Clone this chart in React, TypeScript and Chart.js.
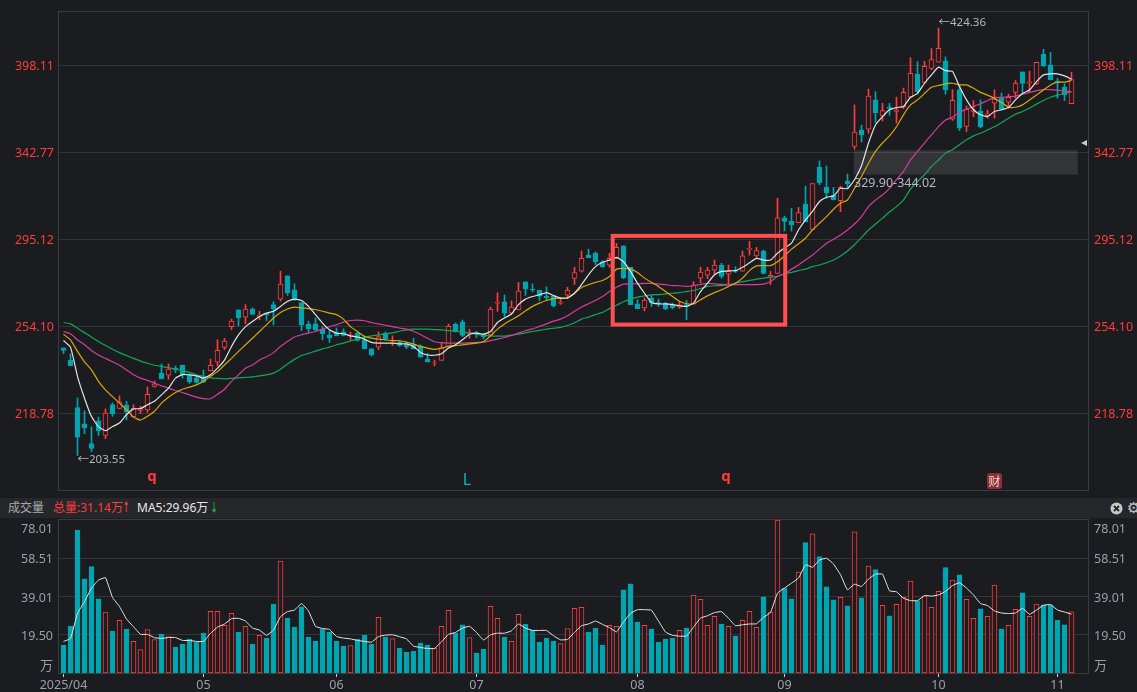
import React, { useEffect, useRef } from "react";
import { Chart, registerables } from "chart.js";

Chart.register(...registerables);

const opens = [244.9,239.8,221,214.9,207.7,216,210.7,222.1,220.7,222,217.6,219.9,220.1,229.2,234.5,233.7,236.5,237.7,233.5,232.6,233,235.5,238.9,245.1,254,261.5,258.2,261.8,258.5,260,263.8,266.3,277.2,270.6,264.7,255,255.2,252.9,250.5,251.3,251.7,249.9,251.2,248.3,244.5,245.2,251.2,246.9,247.3,246.5,246.2,245.6,240.1,238.5,239.7,245.5,255.1,256.1,251,251.4,250.7,250.4,264.5,265.1,259.9,261.4,274.4,270.9,270.4,267.7,267.8,264.5,268.1,276,279.4,287.2,288.3,284,282.3,285.6,291.8,281.3,264.2,262.3,266.8,264.7,264.4,263.6,262.6,263.8,264,276.1,277.5,279.9,282.3,278,279.7,279.4,290.1,286.8,289.1,276.5,278.3,306.3,304.4,303.7,313.6,300.2,334,322.7,318.5,315.4,326.1,346.2,356.1,356.7,375.1,364.9,370.6,367.8,370.8,376.9,392.2,386.5,395.9,400.2,401.2,362.9,381.7,358.4,367.8,368,365.1,373,376.5,373.6,380,393.6,386.1,385.6,405.8,398.4,387.4,383.4,372.7];
const closes = [243.8,237.5,210,213.4,206,212.4,218.9,218.7,223.1,219.4,220.8,220.6,226.1,230.2,232.2,236.1,235.8,233.7,231,230.8,230.9,237.7,243.9,247.8,256.4,258,261.8,259.4,259,259.3,262,273.3,269.3,266.2,254.9,253.1,252.6,250.9,249.2,250,250.2,250.3,248,244.5,241.9,249.7,248.6,247.3,245.9,245.2,244.5,241,239,238.7,244.9,254.1,251.7,250.2,251.4,251,249.7,261.8,265,259.9,262.7,270,271,270.6,267.7,266.9,263.3,265,270.4,278.8,285.6,286,284,281.6,285.6,291.1,276.3,263.8,262,265.9,264.7,264.1,262,262.4,263.5,263,272.8,279,279.9,282.3,276.9,279.4,279.3,286.9,290.6,289.5,278.3,277.4,306.3,304.4,302.6,309.1,304.2,324.9,325.3,319.6,316,322.7,324.6,354.9,353.4,377.5,367,368.2,369.7,368.8,380,392.7,380.4,397.4,402,409.9,381.7,374.9,357.3,369,368.8,358.2,366.3,375.6,369,376.7,386.1,385.8,386.9,400.2,397.6,388.4,386.3,378.4,388.4];
const highs = [244.9,242.4,224.7,219.8,213.8,217.4,220.5,222.8,225.5,223.4,222.1,221.5,229,231.3,238.2,238.2,237.4,237.7,234.1,233.3,235.7,240.2,248.3,248.9,257.3,261.5,263.8,262.3,260.8,260,265.1,279.4,277.2,273.4,264.7,256.4,257.8,254,252.3,253.4,253,251.6,251.6,250,244.5,251.7,251.7,250,248,247.2,249,246.2,242.6,239.8,247.2,255.1,255.6,256.9,252.9,251.9,251.2,262.7,269.2,268.2,265.5,274.1,274.4,273.4,270.4,272,268.1,266.9,271.8,281.3,289.3,290.2,288.8,284.5,288.1,293.1,291.8,281.3,266,266.8,268.3,266.3,264.8,264.5,265.3,265.7,274.4,281.3,281.3,284.8,283.2,282.4,281.6,289.3,294.1,291.1,289.8,279.3,316.7,307.2,311.3,311.8,323.4,324.9,337.7,334.8,322.7,323.4,330.2,371.9,359.2,382.1,380.4,372.9,372.9,376.9,382.8,403.3,400.5,400.8,409.7,424.36,403.9,381.7,384.4,371.2,374.7,375.1,368.6,381.7,379.6,378.9,387.8,393.6,394.1,400.2,409.2,407,389.1,385.6,393.4];
const lows = [242.5,237.5,203.55,211.3,204.9,210.7,209.5,217.7,220.5,216.4,217.4,218.7,219.2,228.9,232.2,232,234.7,232.5,230.4,230.5,230.8,235.4,237.5,244.2,252.7,254.3,255.2,259.3,257,256.7,254.8,265.4,268,265.7,252.3,251.4,252.3,248.3,247.2,250,250,248,247.8,244.5,241.5,244.1,248.3,245.8,245.5,244.5,244.5,241,239,237.4,239.7,245.5,251.7,249.7,249,249.3,248.7,250.4,260.8,258.4,259.6,261.4,268,269.6,265.7,265.7,262.7,263.9,266.5,273.1,279,286,282.6,281.2,281.3,285.6,275.8,263.8,262,261,263,263,261.5,261.8,262.1,257,264,273.8,275.8,277.7,276.1,273,278.8,279.3,287.3,285.6,278.1,273,278.3,299.4,299.4,303.7,304.2,300.2,324.2,316.7,315.8,309.5,322.1,344.6,348.9,354.2,360.8,361.8,365.3,360.4,369.5,376.5,378.8,385.6,395,400.2,378.8,362.1,355.8,355.3,364.5,357.5,363.5,363.5,368.6,369.7,376.2,379.5,380.4,385,397.2,388.2,376.2,374.7,372.7];

const ma5 = [248,245.2,233.2,224.6,217.6,213.9,212.4,213.9,215.2,218.3,220.5,220.6,222.1,223.4,225.9,228.5,232.5,233.9,233.8,233.4,232.5,233.8,236.5,239.8,245.5,250.4,254,256.3,258.5,260,260.8,263,265.3,266.3,265.7,263,259.3,255.5,252.6,251.2,250.9,250,249.5,248.6,247.2,246.9,246.9,246.9,246.6,246.6,245.5,243,241.9,241.8,242.4,244.8,246.2,248.3,250.7,251.2,250.7,251.9,255.8,257.8,259.6,263.8,266.3,267.5,268.3,269.3,268,266.8,266.8,269,273,277.7,281.6,283.7,284.8,286.1,284,279.3,273.7,269,264.8,264.1,264.1,263.8,263.3,263,264.5,269.8,273.7,277.7,279.3,279.6,279.7,281.3,283.5,285.6,284.8,284.8,288.2,290.7,293.2,299.9,305.2,309.7,315,317.3,318,322.2,322,327,334.9,348.3,359.3,364.5,368.8,370.2,370.9,376.8,379.3,386,391.6,396.8,394.5,393.9,383.8,375.1,368.8,365.6,364.5,367.7,368.8,370.2,375.1,379.3,381.5,387.1,391.6,392.3,392.3,390.9,388.7];
const ma10 = [250.7,248.3,243.4,239.1,235.8,231.2,227.8,225.2,222.7,220.2,217.4,216.3,217.7,219.6,222.7,225,226.8,228.1,228.9,229.8,231.2,233.2,235.1,237.8,240.5,243.4,246.2,249,251.9,254.8,257.8,260.3,261.8,262.7,262.3,262,261.5,260.8,260,259.3,257.3,254,251.9,249.7,249,248.6,248.3,248,247.9,247.3,246.5,245.5,244.8,244.3,244.8,245.5,245.8,246.2,246.6,246.9,247.5,250,252.9,255.2,257,258.8,261,263,264.5,265.7,266.5,266.8,266.8,269,271.7,273,274.1,275,276.9,280.4,280.8,280.4,278.8,276.1,274.1,272.2,269.8,267.5,265.3,264.2,264.2,266,267.8,269.3,270.6,272.2,273.7,276.1,279.7,282,282.1,282.1,284,286.8,290.2,292.9,295.7,299.9,303.4,306.9,310.8,314,315.8,322.2,328.9,336.4,343.3,348.3,352.6,358.2,365.6,371.9,375.1,379.3,383.3,384.5,385.6,386,384.9,384.9,382.7,380,378.2,376.1,373.4,370.4,370.4,371.9,375.1,378.2,381.5,384.9,386.7,386.7,387.8];
const ma20 = [251.9,250.9,248.3,246.2,243.8,241.9,240.5,239.1,237.7,235.8,233.8,232.5,231.6,230.5,229.4,228.5,227.6,226.8,225.9,225,224.4,224.4,226.1,228.1,231.2,233.8,236.5,237.8,239.8,241.2,242.9,245.5,247.6,249.5,250.5,251.2,251.9,252.9,254,254.8,256,256.7,256.9,256.6,255.8,255.2,254.6,254,253.4,252.9,252,250.6,249,247.5,247.1,246.9,246.9,246.9,247.1,247.2,247.3,248,248.6,249.3,250.2,251.2,252.2,253,254.1,255.2,256.4,257.3,258.8,260.8,262.7,264.2,265.7,267.5,269.8,271.8,273.3,273.4,273.4,273.6,273.6,273.3,273,272.6,272.5,272.2,272.5,273.1,273.6,273.4,273.1,273,273,273,273,273,273.3,274.5,276.9,278.2,280.4,282.4,284.8,287.3,290.2,293.2,295.2,297.4,299.9,303,306.9,312.2,315.8,318.5,322.2,327,331.7,338.3,343.3,348.3,353.2,358.2,362.4,364.1,367,369.2,370.9,372.6,374.7,376.6,376.8,377.2,377.6,378.7,379.8,381.1,381.8,381.8,381.5,380.9,380.4];
const ma30 = [255.8,255.2,253.3,251.4,249.5,247.6,245.9,244.3,242.9,241.7,240.5,239.4,238.5,237.7,237.2,236.7,236.1,235.4,234.8,233.8,233.2,232.6,232.4,232.2,232.4,232.6,232.8,233,233.4,233.8,234.5,236.1,238.2,240.1,241.7,242.6,243.5,244.5,245.2,246.2,246.9,247.8,248.6,249.5,250,250.4,250.9,251.3,252,252.6,252.9,252.9,252.9,252.7,252.6,252.3,252,251.7,251.3,250.7,250.3,250,249.9,249.9,250.3,250.7,251.3,251.9,252.4,252.9,253.3,253.7,254.5,255.7,257.3,258.2,259.3,260.3,262,263.5,265.1,266.3,267.2,267.8,268.3,268.4,268.7,269,269.3,269.8,270.3,271.2,272.2,272.5,272.6,273,273.7,274.4,275,275.6,276.1,276.6,276.9,278.2,278.8,279.7,280.4,281.6,282.4,283.5,284.8,286.8,289.3,292.4,296.1,299.9,303,306.1,309.3,312.2,315.8,321.7,326,329.8,334.5,338.3,342.3,344.3,347.3,350.2,352.6,354.2,356.2,358.2,360.7,363.5,366,367.7,369.9,372.4,374.7,376.8,378.2,379.3,380.4];

const volumes = [14.2,23.9,72.7,48,54.2,37.8,31,21.4,26.8,22.4,16.1,12,22.2,17.1,19.8,18.6,13.2,14.7,17.3,15.7,20.4,31.5,31.5,24.3,30.4,20.9,23.8,14.7,19.2,17.8,35.2,57.1,28,23.4,33.7,18.3,16.2,22.4,20.9,16.2,13.7,14,17.3,19.3,14.7,28.4,18.3,17.6,12.7,10.6,11.1,15.2,14.2,12.7,23.8,32,20.4,24.5,18.1,10.1,12.1,34,27.9,18.3,16.1,29.9,25,21.9,15.7,17.8,16.2,15,22.7,33,33.5,20.9,22.9,14.2,24.3,23.8,42.4,45.5,26,24.3,22.4,15.7,17.3,17.8,21.7,22.9,39.7,37.6,24.3,28.9,25,23.8,18.8,26.8,31.5,23.3,38.8,31,78.01,43.3,37.8,51.5,66.5,71,59.3,43.9,37.3,38.6,34.2,72,38.3,54.5,52.7,34.5,29.1,35,38.6,46.9,36.8,39.2,33.5,41.7,53.7,47.4,50.1,37.6,27.9,32.7,28.9,44.8,22.4,24.3,32.5,40.9,28.9,35.2,34.7,34.7,27,24.5,31.14];
const volumeMa5 = [16.1,17.6,30.4,36.4,43.3,47.4,48.6,38.5,33.9,27.5,23.6,19.7,19.7,18,17.6,18.1,18.1,16.6,16.6,16.1,16.1,20.2,23.4,25,27.7,27.9,26.5,22.9,21.9,19.2,21.9,28.7,31.3,32.1,35.4,31.6,23.8,22.7,22.2,18.6,17.8,17.4,16.6,16.1,15.7,18.6,19.3,19.5,18.5,17.4,13.7,13,12.5,12.5,15.9,19.7,20.7,22.9,23.8,20.7,16.8,19.5,20.3,20.3,21.5,25,22.9,21.7,21.7,21.7,19,16.9,17.1,20.7,24.1,25,26.5,24.8,23.1,21,26,30.4,32.3,32.3,32,26.5,20.9,19.2,18.8,18.8,23.4,28,29.2,30.8,31.3,27.9,24.1,24.6,25,25.1,28.4,30.8,40.7,43.3,45.8,48.4,55.2,53.9,57.6,58.5,55.6,50.1,42.4,45.3,44.1,47.9,50.4,50.4,41.9,41.4,38.1,36.9,36.9,39.5,39.2,39.8,41.6,44.6,46,43.3,39.8,35.4,34.4,31.6,30.6,30.3,30.6,33,29.9,32.1,34.5,34.9,32.1,31.1,29.96];

const priceTicks = [398.11, 342.77, 295.12, 254.1, 218.78];
const volumeTicks = [58.51, 39.01, 19.5];
const volumeTop = 78.01;
const monthIndex = [0, 20, 39, 59, 82, 103, 125, 142];
const monthLabels = ["2025/04", "05", "06", "07", "08", "09", "10", "11"];
const zoneLow = 329.9;
const zoneHigh = 344.02;
const zoneText = "329.90-344.02";
const lowNote = "←203.55";
const highNote = "←424.36";

const RED = "#ff3c3c";
const TEAL = "#00a5b0";
const BG = "#1b1c20";
const GRID = "#333437";
const AXIS = "#9aa0a8";
const FONT = '"Noto Sans", "Noto Sans CJK SC", sans-serif';
const XMIN = (58 - 63.5) / 7;
const XMAX = (1088 - 63.5) / 7;

const isUp = (i: number) => closes[i] >= opens[i];
const xy = (arr: number[]) => arr.map((y, x) => ({ x, y }));
const lineSet = (data: number[], color: string, order: number, width = 1.2) => ({
  type: "line" as const,
  data: xy(data),
  borderColor: color,
  borderWidth: width,
  pointRadius: 0,
  tension: 0.15,
  order,
});
const noPad = (s: any) => {
  s.paddingTop = 0;
  s.paddingBottom = 0;
  s.paddingLeft = 0;
  s.paddingRight = 0;
};

const frame = {
  id: "frame",
  afterDraw(chart: any) {
    const { ctx, chartArea: a } = chart;
    ctx.save();
    ctx.strokeStyle = "#3a3b3f";
    ctx.lineWidth = 1;
    ctx.strokeRect(Math.floor(a.left) + 0.5, Math.floor(a.top) - 0.5, a.right - a.left, a.bottom - a.top + 1);
    ctx.restore();
  },
};

const priceMarks = {
  id: "priceMarks",
  beforeDatasetsDraw(chart: any) {
    const { ctx, scales } = chart;
    const x0 = scales.x.getPixelForValue(112.9);
    const x1 = scales.x.getPixelForValue(144.9);
    const y0 = scales.y.getPixelForValue(zoneHigh);
    const y1 = scales.y.getPixelForValue(zoneLow);
    ctx.save();
    ctx.fillStyle = "rgba(255,255,255,0.105)";
    ctx.fillRect(x0, y0, x1 - x0, y1 - y0);
    ctx.restore();
  },
  afterDatasetsDraw(chart: any) {
    const { ctx, scales } = chart;
    const X = (k: number) => scales.x.getPixelForValue(k);
    const Y = (p: number) => scales.y.getPixelForValue(p);
    ctx.save();
    ctx.strokeStyle = "#ff5050";
    ctx.lineWidth = 4;
    ctx.lineJoin = "miter";
    ctx.strokeRect(X(78.46), Y(296.9), X(103.1) - X(78.46), Y(254.9) - Y(296.9));

    ctx.textBaseline = "middle";
    ctx.textAlign = "left";
    ctx.font = `11.5px ${FONT}`;
    ctx.fillStyle = "#b4b7bc";
    ctx.fillText(lowNote, X(2), Y(203.55) + 4);
    ctx.fillText(highNote, X(125), Y(424.36) - 5);
    ctx.font = `12.5px ${FONT}`;
    ctx.fillText(zoneText, 854, 183);

    ctx.fillStyle = "#c8cacd";
    ctx.beginPath();
    ctx.moveTo(1081, 143);
    ctx.lineTo(1087, 140);
    ctx.lineTo(1087, 146);
    ctx.closePath();
    ctx.fill();

    ctx.textAlign = "center";
    ctx.font = `bold 15px ${FONT}`;
    ctx.fillStyle = RED;
    ctx.fillText("q", 152, 477);
    ctx.fillText("q", 726, 477);
    ctx.font = `16px ${FONT}`;
    ctx.fillStyle = "#00bfb5";
    ctx.fillText("L", 467, 480);

    ctx.fillStyle = "#8e2f36";
    ctx.beginPath();
    ctx.roundRect(987, 473, 15, 16, 3);
    ctx.fill();
    ctx.fillStyle = "#f0d8d8";
    ctx.font = `12px "Noto Sans CJK SC", sans-serif`;
    ctx.fillText("财", 994.5, 481);
    ctx.restore();
  },
};

const volumeMarks = {
  id: "volumeMarks",
  afterDatasetsDraw(chart: any) {
    const { ctx } = chart;
    ctx.save();
    ctx.fillStyle = AXIS;
    ctx.textBaseline = "middle";
    ctx.font = `12.5px ${FONT}`;
    ctx.textAlign = "right";
    ctx.fillText(volumeTop.toFixed(2), 53, 529 - 518);
    ctx.textAlign = "left";
    ctx.fillText(volumeTop.toFixed(2), 1094, 529 - 518);
    ctx.font = `13px "Noto Sans CJK SC", sans-serif`;
    ctx.textAlign = "right";
    ctx.fillText("万", 53, 665 - 518);
    ctx.textAlign = "left";
    ctx.fillText("万", 1094, 665 - 518);
    ctx.restore();
  },
};

export default function App() {
  const priceRef = useRef<HTMLCanvasElement>(null);
  const volRef = useRef<HTMLCanvasElement>(null);

  useEffect(() => {
    document.body.style.margin = "0";
    document.body.style.background = BG;

    const idx = opens.map((_, i) => i);
    const upFill = idx.map((i) => (isUp(i) ? BG : TEAL));
    const edge = idx.map((i) => (isUp(i) ? RED : TEAL));

    const priceAxis = (pos: "left" | "right", width: number, padding: number, grid: boolean, color: string) => ({
      type: "logarithmic" as const,
      position: pos,
      min: 191.8,
      max: 436.3,
      afterBuildTicks(s: any) {
        s.ticks = priceTicks.map((value) => ({ value }));
      },
      afterFit(s: any) {
        s.width = width;
        noPad(s);
      },
      border: { display: false },
      grid: { display: grid, color: GRID, drawTicks: false, lineWidth: 1 },
      ticks: {
        padding,
        color,
        autoSkip: false,
        labelOffset: 1,
        font: { family: FONT, size: 12.5 },
        callback: (v: any) => Number(v).toFixed(2),
      },
    });

    const price = new Chart(priceRef.current!, {
      type: "bar",
      data: {
        datasets: [
          lineSet(ma5, "#e2e2e2", 1),
          lineSet(ma10, "#d9a800", 2),
          lineSet(ma20, "#d63c9c", 3),
          lineSet(ma30, "#10a858", 4),
          {
            data: idx.map((i) => ({ x: i, y: [opens[i], closes[i]] })),
            backgroundColor: upFill,
            borderColor: edge,
            borderWidth: 1,
            borderSkipped: false,
            grouped: false,
            barThickness: 5,
            maxBarThickness: 5,
            order: 10,
          },
          {
            data: idx.map((i) => ({ x: i, y: [lows[i], highs[i]] })),
            backgroundColor: edge,
            borderWidth: 0,
            grouped: false,
            barThickness: 1,
            maxBarThickness: 1,
            order: 20,
          },
        ] as any,
      },
      options: {
        animation: false,
        responsive: false,
        devicePixelRatio: 1,
        layout: { autoPadding: false, padding: { top: 12, bottom: 1 } },
        plugins: { legend: { display: false }, tooltip: { enabled: false } },
        scales: {
          x: { type: "linear", min: XMIN, max: XMAX, display: false, offset: false, grid: { offset: false } },
          y: priceAxis("left", 58, 4, true, RED),
          yR: priceAxis("right", 49, 6, false, RED),
        } as any,
      },
      plugins: [priceMarks, frame],
    });

    const volumeAxis = (pos: "left" | "right", width: number, padding: number, grid: boolean) => ({
      type: "linear" as const,
      position: pos,
      min: 0,
      max: volumeTop,
      afterBuildTicks(s: any) {
        s.ticks = volumeTicks.map((value) => ({ value }));
      },
      afterFit(s: any) {
        s.width = width;
        noPad(s);
      },
      border: { display: false },
      grid: { display: grid, color: GRID, drawTicks: false },
      ticks: {
        padding,
        color: AXIS,
        labelOffset: 1.5,
        font: { family: FONT, size: 12.5 },
        callback: (v: any) => Number(v).toFixed(2),
      },
    });

    const vol = new Chart(volRef.current!, {
      type: "bar",
      data: {
        datasets: [
          { ...lineSet(volumeMa5, "#e4e4e4", 1, 1), tension: 0.1 },
          {
            data: idx.map((i) => ({ x: i, y: volumes[i] })),
            backgroundColor: upFill,
            borderColor: edge,
            borderWidth: 1,
            borderSkipped: false,
            grouped: false,
            barThickness: 5,
            maxBarThickness: 5,
            order: 10,
          },
        ] as any,
      },
      options: {
        animation: false,
        responsive: false,
        devicePixelRatio: 1,
        layout: { autoPadding: false, padding: { top: 2 } },
        plugins: { legend: { display: false }, tooltip: { enabled: false } },
        scales: {
          x: {
            type: "linear",
            min: XMIN,
            max: XMAX,
            offset: false,
            afterBuildTicks(s: any) {
              s.ticks = monthIndex.map((value) => ({ value }));
            },
            afterFit(s: any) {
              s.height = 19;
              noPad(s);
            },
            border: { display: false },
            grid: { offset: false, drawOnChartArea: false, drawTicks: true, tickLength: 4, tickColor: "#d0d0d0" },
            ticks: {
              padding: 1,
              color: AXIS,
              autoSkip: false,
              maxRotation: 0,
              font: { family: FONT, size: 12.5 },
              callback: (v: any) => monthLabels[monthIndex.indexOf(Number(v))] ?? "",
            },
          },
          y: volumeAxis("left", 58, 5, true),
          yR: volumeAxis("right", 49, 6, false),
        } as any,
      },
      plugins: [volumeMarks, frame],
    });

    return () => {
      price.destroy();
      vol.destroy();
    };
  }, []);

  return (
    <div style={{ position: "relative", width: 1137, height: 692, background: BG, overflow: "hidden", fontFamily: FONT }}>
      <canvas ref={priceRef} width={1137} height={491} style={{ position: "absolute", left: 0, top: 0 }} />
      <div
        style={{
          position: "absolute",
          left: 0,
          top: 498,
          width: 1137,
          height: 20,
          background: "#26272b",
          fontSize: 12,
          lineHeight: "20px",
          whiteSpace: "nowrap",
          fontFamily: '"Noto Sans", "Noto Sans CJK SC", sans-serif',
        }}
      >
        <span style={{ position: "absolute", left: 8, color: "#a8abb0" }}>成交量</span>
        <span style={{ position: "absolute", left: 53, color: RED }}>总量:31.14万</span>
        <span style={{ position: "absolute", left: 120, color: RED, fontWeight: 700, transform: "scaleX(0.6)" }}>↑</span>
        <span style={{ position: "absolute", left: 137, color: "#e8e8e8" }}>MA5:29.96万</span>
        <span style={{ position: "absolute", left: 208, color: "#10c050", fontWeight: 700, transform: "scaleX(0.6)" }}>↓</span>
        <svg style={{ position: "absolute", left: 1110, top: 4 }} width="13" height="13" viewBox="0 0 13 13">
          <circle cx="6.5" cy="6.5" r="6" fill="#c8c8c8" />
          <path d="M4 4 L9 9 M9 4 L4 9" stroke="#26272b" strokeWidth="1.8" />
        </svg>
        <span style={{ position: "absolute", left: 1127, color: "#c8c8c8", fontSize: 15, fontFamily: "DejaVu Sans" }}>⚙</span>
      </div>
      <canvas ref={volRef} width={1137} height={174} style={{ position: "absolute", left: 0, top: 518 }} />
    </div>
  );
}
